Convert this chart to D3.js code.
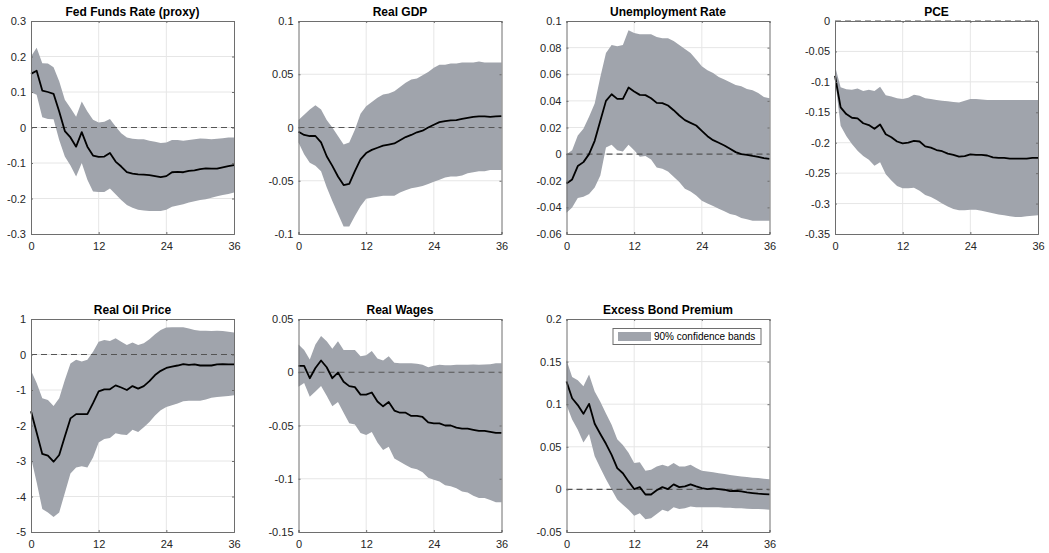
<!DOCTYPE html>
<html>
<head>
<meta charset="utf-8">
<script src="https://cdn.jsdelivr.net/npm/d3@7"></script>
<style>
  html, body { margin: 0; padding: 0; background: #fff; }
  svg { display: block; }
  text { font-family: "Liberation Sans", Arial, Helvetica, sans-serif; }
</style>
</head>
<body>
<svg id="chart" width="1049" height="553"></svg>
<script>
// ---------------- DATA ----------------
const months = d3.range(0, 37);
const xTicks = [0, 12, 24, 36];

const titles = ["Fed Funds Rate (proxy)", "Real GDP", "Unemployment Rate", "PCE",
                "Real Oil Price", "Real Wages", "Excess Bond Premium"];

const yTicksFFR = [-0.3, -0.2, -0.1, 0, 0.1, 0.2, 0.3];
const yTicksGDP = [-0.1, -0.05, 0, 0.05, 0.1];
const yTicksUR  = [-0.06, -0.04, -0.02, 0, 0.02, 0.04, 0.06, 0.08, 0.1];
const yTicksPCE = [-0.35, -0.3, -0.25, -0.2, -0.15, -0.1, -0.05, 0];
const yTicksOIL = [-5, -4, -3, -2, -1, 0, 1];
const yTicksWAGE = [-0.15, -0.1, -0.05, 0, 0.05];
const yTicksEBP = [-0.05, 0, 0.05, 0.1, 0.15, 0.2];

const ffrMid = [0.151,0.16,0.104,0.1,0.095,0.045,-0.01,-0.028,-0.054,-0.013,-0.054,-0.079,-0.083,-0.082,-0.072,-0.096,-0.11,-0.126,-0.13,-0.132,-0.133,-0.134,-0.137,-0.14,-0.137,-0.126,-0.125,-0.126,-0.122,-0.121,-0.117,-0.115,-0.116,-0.116,-0.112,-0.109,-0.106];
const ffrHi  = [0.2,0.225,0.181,0.18,0.17,0.13,0.078,0.055,0.03,0.073,0.045,0.022,0.014,0.016,0.024,0.003,-0.016,-0.028,-0.032,-0.033,-0.033,-0.037,-0.04,-0.044,-0.042,-0.035,-0.035,-0.037,-0.035,-0.033,-0.031,-0.032,-0.033,-0.032,-0.03,-0.028,-0.028];
const ffrLo  = [0.099,0.092,0.029,0.024,0.023,-0.035,-0.082,-0.107,-0.138,-0.1,-0.147,-0.18,-0.182,-0.182,-0.172,-0.188,-0.204,-0.218,-0.226,-0.232,-0.234,-0.235,-0.235,-0.235,-0.232,-0.223,-0.22,-0.216,-0.211,-0.208,-0.204,-0.202,-0.198,-0.194,-0.19,-0.187,-0.183];

const gdpMid = [-0.004,-0.007,-0.008,-0.008,-0.014,-0.027,-0.036,-0.046,-0.054,-0.053,-0.041,-0.03,-0.024,-0.021,-0.019,-0.017,-0.016,-0.015,-0.012,-0.009,-0.007,-0.0045,-0.003,0.0,0.0026,0.005,0.006,0.0067,0.007,0.008,0.009,0.01,0.0104,0.0104,0.01,0.0104,0.0107];
const gdpHi  = [0.007,0.012,0.017,0.021,0.017,0.007,0.0,-0.008,-0.016,-0.014,-0.002,0.013,0.02,0.024,0.028,0.031,0.032,0.034,0.038,0.042,0.045,0.046,0.049,0.052,0.056,0.059,0.059,0.06,0.06,0.061,0.061,0.061,0.062,0.061,0.061,0.061,0.061];
const gdpLo  = [-0.014,-0.025,-0.033,-0.036,-0.041,-0.056,-0.069,-0.081,-0.093,-0.093,-0.083,-0.074,-0.067,-0.066,-0.065,-0.064,-0.064,-0.064,-0.061,-0.059,-0.057,-0.056,-0.055,-0.053,-0.051,-0.049,-0.047,-0.046,-0.046,-0.045,-0.043,-0.042,-0.041,-0.041,-0.04,-0.04,-0.04];

const urMid = [-0.022,-0.019,-0.009,-0.006,0.0,0.01,0.025,0.04,0.045,0.0415,0.0415,0.05,0.047,0.0445,0.0443,0.042,0.0385,0.0383,0.0365,0.033,0.029,0.0255,0.0235,0.0215,0.0175,0.0135,0.0105,0.0085,0.0065,0.004,0.0015,0.0,-0.0005,-0.0013,-0.002,-0.003,-0.0035];
const urHi  = [0.0,0.003,0.014,0.019,0.028,0.038,0.058,0.076,0.082,0.081,0.082,0.093,0.091,0.09,0.09,0.09,0.088,0.087,0.087,0.085,0.082,0.079,0.076,0.071,0.066,0.063,0.061,0.058,0.056,0.054,0.052,0.051,0.049,0.048,0.046,0.043,0.042];
const urLo  = [-0.044,-0.04,-0.033,-0.032,-0.03,-0.025,-0.016,0.005,0.007,0.003,0.002,0.007,0.003,-0.002,-0.0015,-0.004,-0.01,-0.011,-0.013,-0.017,-0.021,-0.026,-0.028,-0.031,-0.035,-0.037,-0.039,-0.041,-0.043,-0.045,-0.046,-0.048,-0.049,-0.05,-0.05,-0.05,-0.05];

const pceMid = [-0.09,-0.142,-0.153,-0.159,-0.16,-0.168,-0.171,-0.177,-0.17,-0.186,-0.191,-0.198,-0.201,-0.2,-0.197,-0.198,-0.206,-0.208,-0.212,-0.214,-0.218,-0.22,-0.223,-0.222,-0.219,-0.22,-0.22,-0.221,-0.224,-0.225,-0.225,-0.226,-0.226,-0.226,-0.226,-0.225,-0.225];
const pceHi  = [-0.074,-0.109,-0.112,-0.113,-0.111,-0.115,-0.113,-0.115,-0.108,-0.122,-0.124,-0.127,-0.128,-0.126,-0.121,-0.123,-0.127,-0.128,-0.13,-0.131,-0.132,-0.133,-0.134,-0.131,-0.128,-0.128,-0.129,-0.13,-0.13,-0.13,-0.13,-0.13,-0.13,-0.13,-0.13,-0.13,-0.13];
const pceLo  = [-0.096,-0.172,-0.189,-0.202,-0.213,-0.222,-0.228,-0.238,-0.232,-0.252,-0.262,-0.271,-0.275,-0.275,-0.274,-0.279,-0.286,-0.289,-0.294,-0.3,-0.305,-0.309,-0.311,-0.311,-0.31,-0.31,-0.312,-0.314,-0.316,-0.318,-0.319,-0.321,-0.322,-0.322,-0.321,-0.32,-0.319];

const oilMid = [-1.6,-2.2,-2.8,-2.85,-3.02,-2.83,-2.31,-1.8,-1.68,-1.68,-1.68,-1.37,-1.04,-0.98,-0.98,-0.87,-0.93,-1.0,-0.89,-0.96,-0.89,-0.75,-0.58,-0.46,-0.38,-0.34,-0.31,-0.27,-0.29,-0.28,-0.31,-0.31,-0.31,-0.28,-0.27,-0.28,-0.28];
const oilHi  = [-0.45,-0.8,-1.23,-1.28,-1.45,-1.23,-0.72,-0.25,-0.15,-0.2,-0.15,0.08,0.36,0.41,0.38,0.46,0.36,0.27,0.34,0.27,0.32,0.43,0.57,0.69,0.76,0.77,0.77,0.77,0.73,0.69,0.67,0.67,0.66,0.67,0.66,0.64,0.62];
const oilLo  = [-2.9,-3.6,-4.35,-4.45,-4.58,-4.45,-3.9,-3.35,-3.18,-3.15,-3.18,-2.9,-2.48,-2.38,-2.35,-2.22,-2.25,-2.27,-2.12,-2.18,-2.05,-1.9,-1.72,-1.57,-1.48,-1.43,-1.38,-1.32,-1.3,-1.3,-1.3,-1.27,-1.22,-1.2,-1.18,-1.17,-1.15];

const wageMid = [0.006,0.006,-0.0056,0.004,0.011,0.0047,-0.0056,-0.0003,-0.009,-0.013,-0.014,-0.021,-0.021,-0.019,-0.0275,-0.032,-0.028,-0.036,-0.038,-0.038,-0.041,-0.041,-0.042,-0.047,-0.048,-0.048,-0.05,-0.05,-0.052,-0.053,-0.053,-0.054,-0.055,-0.055,-0.056,-0.057,-0.057];
const wageHi  = [0.026,0.021,0.012,0.026,0.034,0.029,0.022,0.029,0.021,0.021,0.021,0.015,0.016,0.02,0.013,0.011,0.015,0.009,0.0085,0.0085,0.0085,0.008,0.007,0.0047,0.006,0.007,0.0066,0.0066,0.007,0.007,0.007,0.0072,0.007,0.0072,0.0075,0.0085,0.0085];
const wageLo  = [-0.0135,-0.01,-0.023,-0.018,-0.0128,-0.022,-0.032,-0.028,-0.038,-0.048,-0.049,-0.057,-0.059,-0.056,-0.066,-0.073,-0.07,-0.081,-0.084,-0.087,-0.09,-0.091,-0.094,-0.099,-0.101,-0.1025,-0.106,-0.107,-0.109,-0.112,-0.113,-0.116,-0.118,-0.118,-0.12,-0.122,-0.122];

const ebpMid = [0.1266,0.107,0.099,0.0887,0.1004,0.077,0.065,0.0535,0.0406,0.025,0.019,0.0094,0.0004,0.0027,-0.006,-0.006,-0.001,0.0027,0.0004,0.0059,0.0027,0.0035,0.0059,0.0035,0.0016,0.0004,0.0012,0.0004,-0.0004,-0.002,-0.0016,-0.0023,-0.0035,-0.0043,-0.005,-0.0055,-0.0059];
const ebpHi  = [0.152,0.132,0.128,0.121,0.135,0.115,0.103,0.089,0.076,0.059,0.052,0.043,0.031,0.032,0.022,0.023,0.027,0.029,0.027,0.031,0.027,0.027,0.029,0.025,0.022,0.021,0.02,0.019,0.018,0.017,0.016,0.015,0.0145,0.0137,0.0133,0.0125,0.012];
const ebpLo  = [0.099,0.082,0.07,0.055,0.065,0.039,0.025,0.012,0.0,-0.012,-0.018,-0.024,-0.031,-0.028,-0.035,-0.034,-0.029,-0.024,-0.026,-0.021,-0.023,-0.022,-0.02,-0.021,-0.021,-0.021,-0.021,-0.021,-0.0215,-0.0215,-0.022,-0.022,-0.0227,-0.023,-0.023,-0.0234,-0.0238];

const legendLabel = "90% confidence bands";

// ---------------- LAYOUT ----------------
const panels = [
  { title: titles[0], mid: ffrMid,  hi: ffrHi,  lo: ffrLo,  yTicks: yTicksFFR },
  { title: titles[1], mid: gdpMid,  hi: gdpHi,  lo: gdpLo,  yTicks: yTicksGDP },
  { title: titles[2], mid: urMid,   hi: urHi,   lo: urLo,   yTicks: yTicksUR },
  { title: titles[3], mid: pceMid,  hi: pceHi,  lo: pceLo,  yTicks: yTicksPCE },
  { title: titles[4], mid: oilMid,  hi: oilHi,  lo: oilLo,  yTicks: yTicksOIL },
  { title: titles[5], mid: wageMid, hi: wageHi, lo: wageLo, yTicks: yTicksWAGE },
  { title: titles[6], mid: ebpMid,  hi: ebpHi,  lo: ebpLo,  yTicks: yTicksEBP, legend: true }
];
const colLeft = [31, 298.5, 566.5, 835];
const rowTop = [21, 319];
const W = 203, H = 213;

const bandColor = "#a0a4ac";
const axisColor = "#6e6e6e";
const gridColor = "#e6e6e6";

const fmt = v => String(+v.toFixed(6));

const svg = d3.select("#chart");

panels.forEach((p, i) => {
  const left = colLeft[i % 4], top = rowTop[Math.floor(i / 4)];
  const yd = d3.extent(p.yTicks);
  const x = d3.scaleLinear().domain([0, 36]).range([0, W]);
  const y = d3.scaleLinear().domain(yd).range([H, 0]);
  const g = svg.append("g").attr("transform", `translate(${left},${top})`);

  // grid
  g.append("g").selectAll("line.gx").data(xTicks.slice(1, -1)).join("line")
    .attr("x1", d => x(d)).attr("x2", d => x(d)).attr("y1", 0).attr("y2", H)
    .attr("stroke", gridColor).attr("stroke-width", 1);
  g.append("g").selectAll("line.gy").data(p.yTicks.slice(1, -1)).join("line")
    .attr("x1", 0).attr("x2", W).attr("y1", d => y(d)).attr("y2", d => y(d))
    .attr("stroke", gridColor).attr("stroke-width", 1);

  const data = months.map((m, k) => ({ m, mid: p.mid[k], hi: p.hi[k], lo: p.lo[k] }));

  // band
  g.append("path").datum(data)
    .attr("d", d3.area().x(d => x(d.m)).y0(d => y(d.lo)).y1(d => y(d.hi)))
    .attr("fill", bandColor).attr("stroke", "none");

  // zero line
  g.append("line").attr("x1", 0).attr("x2", W).attr("y1", y(0)).attr("y2", y(0))
    .attr("stroke", "#555").attr("stroke-width", 1.1).attr("stroke-dasharray", "6,4");

  // median
  g.append("path").datum(data)
    .attr("d", d3.line().x(d => x(d.m)).y(d => y(d.mid)))
    .attr("fill", "none").attr("stroke", "#000").attr("stroke-width", 1.8)
    .attr("stroke-linejoin", "round");

  // axes (ticks inward)
  const ax = g.append("g").attr("transform", `translate(0,${H})`)
    .call(d3.axisBottom(x).tickValues(xTicks).tickSize(-2).tickPadding(8).tickFormat(fmt));
  const ay = g.append("g")
    .call(d3.axisLeft(y).tickValues(p.yTicks).tickSize(-2).tickPadding(5).tickFormat(fmt));
  const axT = g.append("g")
    .call(d3.axisTop(x).tickValues(xTicks).tickSize(-2).tickFormat(""));
  const ayR = g.append("g").attr("transform", `translate(${W},0)`)
    .call(d3.axisRight(y).tickValues(p.yTicks).tickSize(-2).tickFormat(""));
  [ax, ay, axT, ayR].forEach(a => {
    a.select(".domain").attr("stroke", axisColor);
    a.selectAll(".tick line").attr("stroke", axisColor);
    a.selectAll(".tick text").attr("fill", "#262626")
      .style("font-size", "11px").style("font-family", "'Liberation Sans', Arial, sans-serif");
  });
  ax.selectAll(".tick text").attr("dy", "0.71em");

  // title
  g.append("text").attr("x", W / 2).attr("y", -5).attr("text-anchor", "middle")
    .style("font-size", "12px").style("font-weight", "bold").attr("fill", "#000")
    .text(p.title);

  // legend
  if (p.legend) {
    const lg = g.append("g").attr("transform", `translate(${W - 156.5},${9.5})`);
    lg.append("rect").attr("x", 0).attr("y", 0).attr("width", 148).attr("height", 16)
      .attr("fill", "#fff").attr("stroke", "#6e6e6e").attr("stroke-width", 1);
    lg.append("rect").attr("x", 5).attr("y", 3.5).attr("width", 33).attr("height", 9)
      .attr("fill", bandColor);
    lg.append("text").attr("x", 41).attr("y", 11.8)
      .style("font-size", "10px").attr("fill", "#000").text(legendLabel);
  }
});
</script>
</body>
</html>
